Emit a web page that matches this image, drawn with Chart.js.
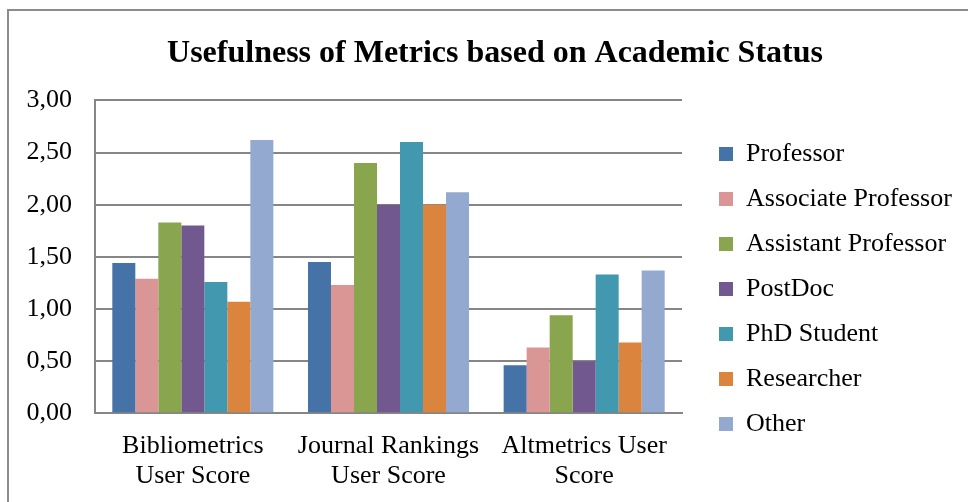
<!DOCTYPE html>
<html>
<head>
<meta charset="utf-8">
<script src="https://cdn.jsdelivr.net/npm/chart.js@4.4.1/dist/chart.umd.min.js"></script>
<style>
  body { margin: 0; background: #fff; }
  #wrap { position: relative; width: 968px; height: 502px; overflow: hidden; }
  #frame { position: absolute; left: 7px; top: 9px; width: 990px; height: 520px; border: 2px solid #8c8c8c; pointer-events: none; }
  canvas { position: absolute; left: 0; top: 0; }
</style>
</head>
<body>
<div id="wrap">
  <div id="frame"></div>
  <canvas id="chart" width="968" height="502"></canvas>
</div>
<script>
const categories = [
  ["Bibliometrics", "User Score"],
  ["Journal Rankings", "User Score"],
  ["Altmetrics User", "Score"],
];

const professor = [1.44, 1.45, 0.46];
const associateProfessor = [1.29, 1.23, 0.63];
const assistantProfessor = [1.83, 2.40, 0.94];
const postDoc = [1.80, 2.00, 0.50];
const phdStudent = [1.26, 2.60, 1.33];
const researcher = [1.07, 2.00, 0.68];
const other = [2.62, 2.12, 1.37];

const yTicks = [0, 0.5, 1, 1.5, 2, 2.5, 3];

const series = [
  ["Professor", professor, "#4572a7"],
  ["Associate Professor", associateProfessor, "#da9694"],
  ["Assistant Professor", assistantProfessor, "#89a54e"],
  ["PostDoc", postDoc, "#71588f"],
  ["PhD Student", phdStudent, "#4198af"],
  ["Researcher", researcher, "#db843d"],
  ["Other", other, "#93a9cf"],
];

const serif = "'Liberation Serif', 'Times New Roman', serif";
const gridColor = "#868686";

// legend block sits to the right of the plot; title is centred on the whole frame
const placeBlocks = {
  id: "placeBlocks",
  afterLayout(chart) {
    const lg = chart.legend;
    lg.left = 700;
    lg.right = 968;
    lg.top = 122;
    lg.bottom = 502;
    const tb = chart.titleBlock;
    tb.left = 0;
    tb.right = 990;
  }
};

Chart.defaults.font.family = serif;
Chart.defaults.color = "#000";

new Chart(document.getElementById("chart"), {
  type: "bar",
  data: {
    labels: categories,
    datasets: series.map(([name, values, color]) => ({
      label: name,
      data: values,
      backgroundColor: color,
      borderWidth: 0,
      categoryPercentage: 0.823,
      barPercentage: 1,
    }))
  },
  plugins: [placeBlocks],
  options: {
    responsive: false,
    animation: false,
    layout: {
      padding: { left: 0, right: 86, top: 0, bottom: 0 }
    },
    plugins: {
      title: {
        display: true,
        text: "Usefulness of Metrics based on Academic Status",
        font: { size: 32, weight: "bold", family: serif, lineHeight: 1.2 },
        color: "#000",
        padding: { top: 35, bottom: 27 }
      },
      legend: {
        position: "right",
        align: "start",
        maxWidth: 200,
        labels: {
          boxWidth: 14,
          boxHeight: 14,
          padding: 19,
          font: { size: 26, family: serif },
          color: "#000"
        }
      },
      tooltip: { enabled: false }
    },
    scales: {
      x: {
        grid: { display: false },
        border: { display: true, color: gridColor, width: 2 },
        ticks: {
          padding: 10,
          maxRotation: 0,
          font: { size: 26, family: serif, lineHeight: 1.154 },
          color: "#000"
        },
        afterFit(scale) { scale.height = 88.7; }
      },
      y: {
        min: 0,
        max: 3,
        afterBuildTicks(scale) { scale.ticks = yTicks.map(v => ({ value: v })); },
        grid: { color: gridColor, lineWidth: 2, drawTicks: false },
        border: { display: true, color: gridColor, width: 2 },
        ticks: {
          padding: 23,
          font: { size: 26, family: serif },
          color: "#000",
          callback: v => v.toFixed(2).replace(".", ",")
        },
        afterFit(scale) { scale.width = 95; }
      }
    }
  }
});
</script>
</body>
</html>
